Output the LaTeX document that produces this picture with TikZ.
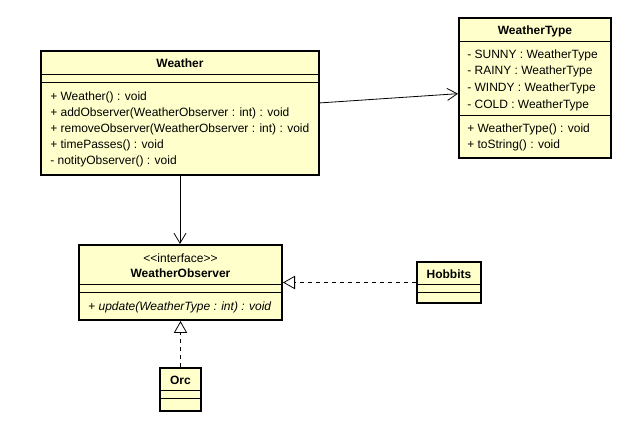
\documentclass[tikz,border=0pt]{standalone}
\usepackage{fontspec}
\setmainfont{Liberation Sans}
\usetikzlibrary{arrows.meta,positioning,fit,calc}
\definecolor{umlfill}{RGB}{255,255,204}

\begin{document}
\begin{tikzpicture}[x=0.75pt,y=-0.75pt,font=\fontsize{9}{12}\selectfont,
  cls/.style={draw=black,line width=1.5pt,fill=umlfill,inner sep=0pt},
  sep/.style={draw=black,line width=0.75pt},
  title/.style={font=\fontsize{9}{12}\selectfont\bfseries,inner sep=0pt},
  members/.style={anchor=west,align=left,inner sep=0pt},
  assoc/.style={-{Straight Barb[length=7.5pt,width=9pt]},line width=0.6pt},
  realize/.style={-{Triangle[open,fill=white,length=9pt,width=10pt]},line width=0.6pt,dash pattern=on 3pt off 3pt}]
\useasboundingbox (0,0) rectangle (619,434);
% classes
\node[cls,fit={(41,51) (319,175)}] (weather) {};
\node[cls,fit={(459,18) (611,158)}] (wtype) {};
\node[cls,fit={(79,245) (282,320)}] (wobs) {};
\node[cls,fit={(417,262) (481,303)}] (hobbits) {};
\node[cls,fit={(160,368) (201,411)}] (orc) {};
% compartments
\draw[sep] (weather.west |- 0,75) -- (weather.east |- 0,75);
\draw[sep] (weather.west |- 0,83) -- (weather.east |- 0,83);
\draw[sep] (wtype.west |- 0,42) -- (wtype.east |- 0,42);
\draw[sep] (wtype.west |- 0,116) -- (wtype.east |- 0,116);
\draw[sep] (wobs.west |- 0,285) -- (wobs.east |- 0,285);
\draw[sep] (wobs.west |- 0,293) -- (wobs.east |- 0,293);
\draw[sep] (hobbits.west |- 0,285) -- (hobbits.east |- 0,285);
\draw[sep] (hobbits.west |- 0,293) -- (hobbits.east |- 0,293);
\draw[sep] (orc.west |- 0,391) -- (orc.east |- 0,391);
\draw[sep] (orc.west |- 0,399) -- (orc.east |- 0,399);
% texts
\node[title] (weathername) at (180,63) {Weather};
\node[members] (weatherops) at (50,129) {+ Weather() : void\\+ addObserver(WeatherObserver : int) : void\\+ removeObserver(WeatherObserver : int) : void\\+ timePasses() : void\\- notityObserver() : void};
\node[title] (wtypename) at (535,31) {WeatherType};
\node[members,font=\fontsize{9}{12.5}\selectfont] (wtypeattrs) at (467,80) {- SUNNY : WeatherType\\- RAINY : WeatherType\\- WINDY : WeatherType\\- COLD : WeatherType};
\node[members,font=\fontsize{9}{12.5}\selectfont] (wtypeops) at (467,137.5) {+ WeatherType() : void\\+ toString() : void};
\node[inner sep=0pt] (stereo) at (180.5,258) {<\kern0pt<interface>\kern0pt>};
\node[title] (wobsname) at (180.5,273) {WeatherObserver};
\node[members] (wobsops) at (88,307) {+ \textit{update(WeatherType : int) : void}};
\node[title] (hobbitsname) at (449,274) {Hobbits};
\node[title] (orcname) at (180.5,380) {Orc};
% relations
\draw[assoc] ($(weather.north east)!0.42!(weather.south east)$) -- ($(wtype.north west)!0.54!(wtype.south west)$);
\draw[assoc] (weather.south) -- (weather.south |- wobs.north);
\draw[realize] (hobbits.west) -- (hobbits.west -| wobs.east);
\draw[realize] (orc.north) -- (wobs.south);
\end{tikzpicture}
\end{document}
